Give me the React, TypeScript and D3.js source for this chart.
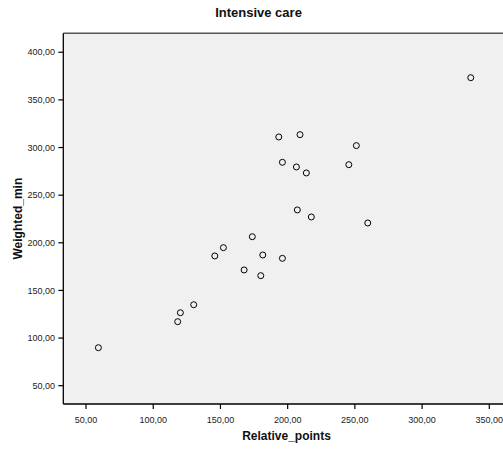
import React from "react";
import * as d3 from "d3";

const relativePoints = [336.2, 193.4, 209.2, 251.1, 196.1, 206.5, 213.9, 245.5, 207.2, 217.6, 259.6, 173.7, 181.5, 196.1, 180.0, 152.2, 145.8, 167.6, 130.1, 120.2, 118.2, 59.2];
const weightedMin = [373.3, 311.1, 313.5, 302.0, 284.5, 279.6, 273.3, 282.0, 234.5, 227.1, 220.8, 206.4, 187.2, 183.7, 165.5, 194.9, 186.2, 171.5, 135.0, 126.6, 117.2, 89.9];
const xTicks = [50, 100, 150, 200, 250, 300, 350];
const yTicks = [50, 100, 150, 200, 250, 300, 350, 400];
const title = "Intensive care";
const xTitle = "Relative_points";
const yTitle = "Weighted_min";

const W = 503;
const H = 449;
const left = 63.3;
const top = 33.3;
const bottom = 404;
const right = 510;

const x = d3.scaleLinear().domain([33.1, 365.4]).range([left, right]);
const y = d3.scaleLinear().domain([30.8, 419.9]).range([bottom, top]);
const fmt = (v: number) => d3.format(".2f")(v).replace(".", ",");

export default function App() {
  const font = "Arial, 'Liberation Sans', sans-serif";
  return (
    <svg width={W} height={H} style={{ position: "absolute", left: 0, top: 0, background: "#fff" }} fontFamily={font}>
      <rect x={left} y={top} width={right - left} height={bottom - top} fill="#f0f0f0" />
      <line x1={left} x2={right} y1={top} y2={top} stroke="#555" strokeWidth={1.5} />
      <text x={258.5} y={16.5} textAnchor="middle" fontSize={13} fontWeight="bold" fill="#111">{title}</text>
      {relativePoints.map((v, i) => (
        <circle key={i} cx={x(v)} cy={y(weightedMin[i])} r={3} fill="none" stroke="#000" strokeWidth={1} />
      ))}
      <line x1={left} x2={left} y1={top} y2={bottom} stroke="#000" strokeWidth={1.3} />
      <line x1={left} x2={right} y1={bottom} y2={bottom} stroke="#000" strokeWidth={1.3} />
      {yTicks.map((t) => (
        <g key={"y" + t}>
          <line x1={left - 5} x2={left} y1={y(t)} y2={y(t)} stroke="#000" strokeWidth={1.2} />
          <text x={55} y={y(t) + 3.2} textAnchor="end" fontSize={9} fill="#222">{fmt(t)}</text>
        </g>
      ))}
      {xTicks.map((t) => (
        <g key={"x" + t}>
          <line x1={x(t)} x2={x(t)} y1={bottom} y2={bottom + 5} stroke="#000" strokeWidth={1.2} />
          <text x={x(t)} y={422.5} textAnchor="middle" fontSize={9} fill="#222">{fmt(t)}</text>
        </g>
      ))}
      <text x={286.5} y={440} textAnchor="middle" fontSize={12} fontWeight="bold" fill="#111">{xTitle}</text>
      <text transform={`translate(21.5, ${(top + bottom) / 2}) rotate(-90)`} textAnchor="middle" fontSize={12} fontWeight="bold" fill="#111">{yTitle}</text>
    </svg>
  );
}
